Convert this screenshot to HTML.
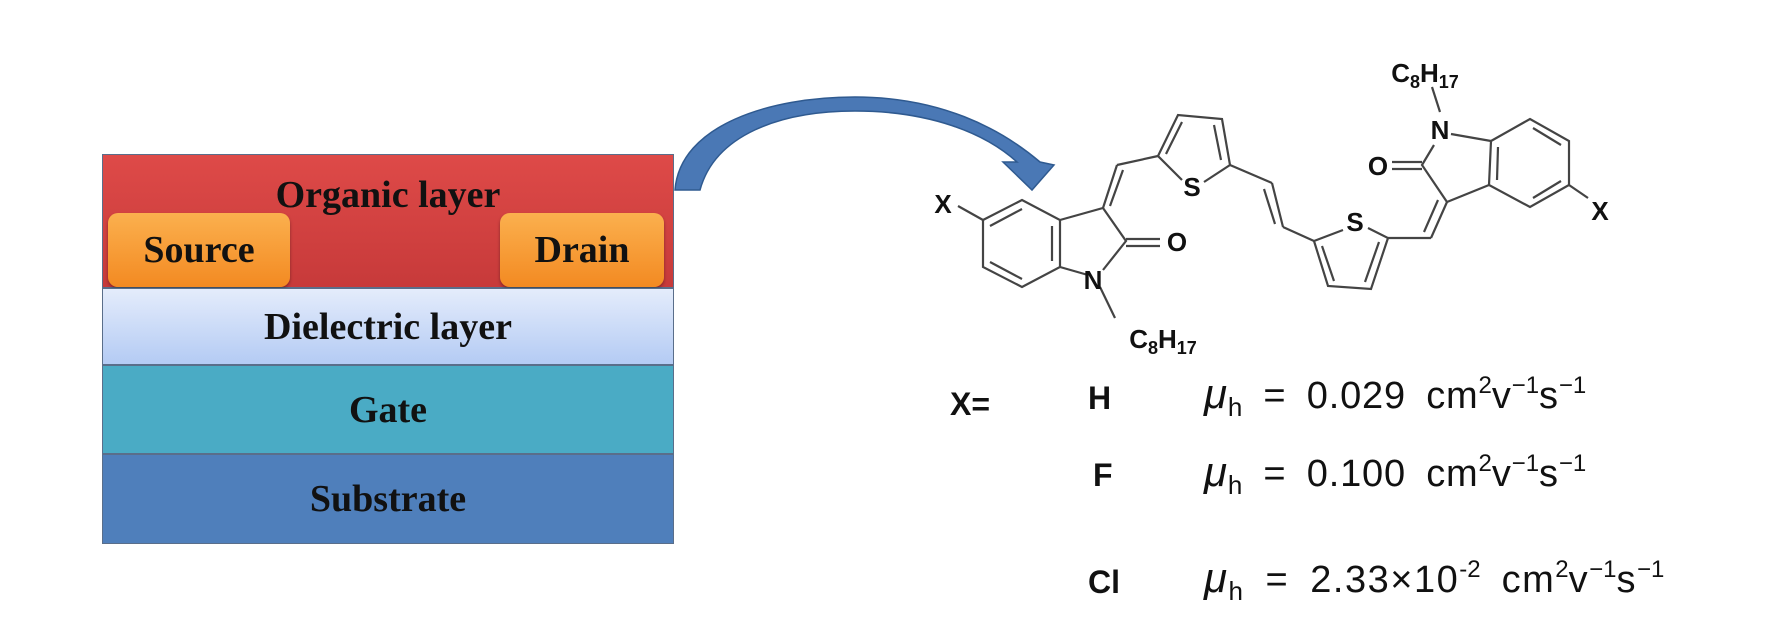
<!DOCTYPE html>
<html><head><meta charset="utf-8"><style>
body{margin:0;background:#fff;width:1771px;height:629px;overflow:hidden;position:relative;font-family:"Liberation Sans",sans-serif}
.l{position:absolute;left:102px;width:572px;box-sizing:border-box;border:1px solid #5a6e8a;display:flex;align-items:center;justify-content:center;font-family:"Liberation Serif",serif;font-weight:bold;font-size:38px;color:#111}
.e{position:absolute;border-radius:10px;background:linear-gradient(#fbb04e,#f38a22);box-shadow:0 2px 3px rgba(0,0,0,.35);font-family:"Liberation Serif",serif;font-weight:bold;font-size:38px;display:flex;align-items:center;justify-content:center;color:#111}
.t{position:absolute;font-size:32px;color:#111;white-space:nowrap}
.m{position:absolute;font-size:38px;color:#111;white-space:nowrap;word-spacing:9px;letter-spacing:0.8px}
.m sup{font-size:24px;vertical-align:15px;line-height:0;letter-spacing:0}
.m sub{font-size:26px;vertical-align:-8px;line-height:0}
.m i{font-size:42px}
</style></head><body>
<div class="l" style="top:154px;height:134px;background:linear-gradient(#de4a48,#c73a3a);align-items:flex-start;padding-top:18px">Organic layer</div>
<div class="e" style="left:108px;top:213px;width:182px;height:74px">Source</div>
<div class="e" style="left:500px;top:213px;width:164px;height:74px">Drain</div>
<div class="l" style="top:288px;height:77px;background:linear-gradient(#e4ecfb,#b4cbf4)">Dielectric layer</div>
<div class="l" style="top:365px;height:89px;background:#4aabc5">Gate</div>
<div class="l" style="top:454px;height:90px;background:#4f7fbb">Substrate</div>

<svg width="1771" height="629" style="position:absolute;left:0;top:0" font-family="Liberation Sans, sans-serif">
<path d="M675,190 C680,125 770,97 855,97 C940,97 1000,128 1040,162 L1054,165 L1032,190 L1003,162 L1017,162 C985,133 930,111 855,111 C780,111 715,135 700,190 Z" fill="#4a78b5" stroke="#2f5a90" stroke-width="1.5"/>
<g stroke="#444" stroke-width="2.2" fill="none">
<polygon points="983,220 1022,200 1060,220 1060,267 1022,287 983,267"/>
<line x1="990" y1="226" x2="1022" y2="209"/><line x1="1052" y1="226" x2="1052" y2="261"/><line x1="990" y1="262" x2="1022" y2="279"/>
<line x1="983" y1="220" x2="958" y2="206"/>
<polyline points="1060,220 1103,208 1126,241 1103,270"/><line x1="1060" y1="267" x2="1088" y2="275"/>
<line x1="1126" y1="239" x2="1160" y2="239"/><line x1="1126" y1="246" x2="1160" y2="246"/>
<line x1="1100" y1="287" x2="1115" y2="318"/>
<line x1="1103" y1="208" x2="1117" y2="165"/><line x1="1110" y1="206" x2="1123" y2="170"/>
<line x1="1117" y1="165" x2="1158" y2="156"/>
<polyline points="1182,180 1158,156 1178,115 1222,119 1230,165 1204,182"/>
<line x1="1166" y1="154" x2="1182" y2="122"/><line x1="1214" y1="125" x2="1221" y2="160"/>
<line x1="1230" y1="165" x2="1272" y2="183"/><line x1="1272" y1="183" x2="1283" y2="227"/><line x1="1264" y1="189" x2="1275" y2="224"/>
<line x1="1283" y1="227" x2="1314" y2="241"/>
<polyline points="1343,230 1314,241 1328,286 1371,289 1388,238 1368,228"/>
<line x1="1322" y1="246" x2="1334" y2="281"/><line x1="1365" y1="282" x2="1379" y2="242"/>
<line x1="1388" y1="238" x2="1431" y2="238"/><line x1="1431" y1="238" x2="1447" y2="202"/><line x1="1424" y1="232" x2="1438" y2="200"/>
<polyline points="1447,202 1422,165 1434,145"/><line x1="1447" y1="202" x2="1489" y2="185"/>
<line x1="1451" y1="134" x2="1491" y2="141"/>
<line x1="1422" y1="162" x2="1392" y2="162"/><line x1="1422" y1="169" x2="1392" y2="169"/>
<line x1="1432" y1="87" x2="1440" y2="112"/>
<polygon points="1491,141 1530,119 1569,141 1569,185 1530,207 1489,185"/>
<line x1="1498" y1="147" x2="1497" y2="180"/><line x1="1533" y1="128" x2="1561" y2="145"/><line x1="1533" y1="198" x2="1561" y2="181"/>
<line x1="1569" y1="185" x2="1588" y2="198"/>
</g>
<g font-size="26" font-weight="bold" fill="#111" text-anchor="middle">
<text x="943" y="213">X</text>
<text x="1093" y="289">N</text>
<text x="1177" y="251">O</text>
<text x="1192" y="196">S</text>
<text x="1355" y="231">S</text>
<text x="1440" y="139">N</text>
<text x="1378" y="175">O</text>
<text x="1600" y="220">X</text>
<text x="1163" y="348">C<tspan font-size="18" dy="6">8</tspan><tspan dy="-6">H</tspan><tspan font-size="18" dy="6">17</tspan></text>
<text x="1425" y="82">C<tspan font-size="18" dy="6">8</tspan><tspan dy="-6">H</tspan><tspan font-size="18" dy="6">17</tspan></text>
</g>
</svg>

<div class="t" style="left:950px;top:386px;font-weight:bold">X=</div>
<div class="t" style="left:1088px;top:380px;font-weight:bold">H</div>
<div class="t" style="left:1093px;top:457px;font-weight:bold">F</div>
<div class="t" style="left:1088px;top:564px;font-weight:bold">Cl</div>
<div class="m" style="left:1204px;top:370px"><i>μ</i><sub>h</sub> = 0.029 cm<sup>2</sup>v<sup>−1</sup>s<sup>−1</sup></div>
<div class="m" style="left:1204px;top:448px"><i>μ</i><sub>h</sub> = 0.100 cm<sup>2</sup>v<sup>−1</sup>s<sup>−1</sup></div>
<div class="m" style="left:1204px;top:554px;letter-spacing:1.5px"><i>μ</i><sub>h</sub> = 2.33×10<sup>-2</sup> cm<sup>2</sup>v<sup>−1</sup>s<sup>−1</sup></div>
</body></html>
